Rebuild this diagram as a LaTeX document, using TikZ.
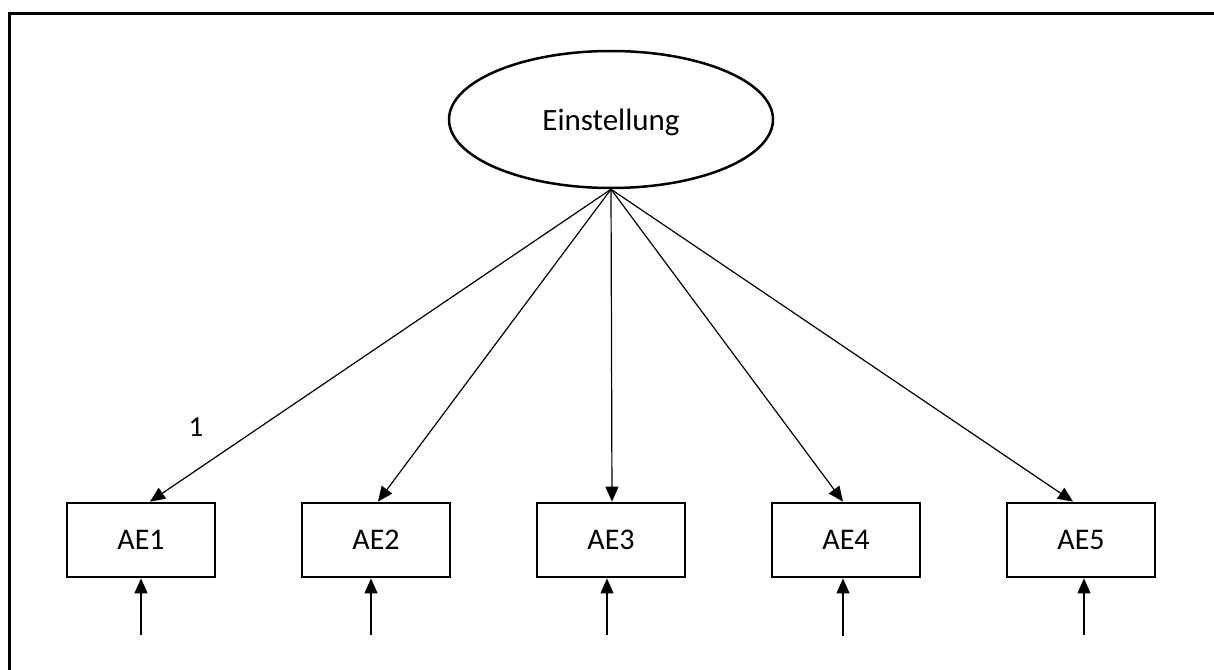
\documentclass[tikz,border=0pt]{standalone}
\usepackage{fontspec}
\setmainfont{Carlito}
\usetikzlibrary{arrows.meta,shapes.geometric}
\begin{document}
\begin{tikzpicture}[x=1pt,y=-1pt,
  indicator/.style={draw,line width=2.8pt,minimum width=148pt,minimum height=74pt,
    inner sep=0pt,font=\fontsize{30}{36}\selectfont},
  latent/.style={draw,ellipse,line width=2.5pt,minimum width=324pt,minimum height=137pt,
    inner sep=0pt},
  path/.style={line width=1.2pt,-{Triangle[length=15pt,width=13pt]}},
  label/.style={font=\fontsize{29}{34}\selectfont,inner sep=0pt,anchor=base}]
  \clip (0,0) rectangle (1214,669);
  % open frame (top and left edges)
  \draw[line width=3pt] (9.5,700) -- (9.5,13.5) -- (1240,13.5);
  % latent variable
  \node[latent] (ell) at (611,119.5) {};
  \node[label,font=\fontsize{31}{36}\selectfont] (elltext) at (611,130.5) {Einstellung};
  % indicators
  \node[indicator] (ae1) at (141,540) {AE1};
  \node[indicator] (ae2) at (376,540) {AE2};
  \node[indicator] (ae3) at (611,540) {AE3};
  \node[indicator] (ae4) at (846,540) {AE4};
  \node[indicator] (ae5) at (1081,540) {AE5};
  % loadings
  \draw[path] (ell.south) -- ([xshift=9pt]ae1.north);
  \draw[path] (ell.south) -- ([xshift=2pt]ae2.north);
  \draw[path] (ell.south) -- ([xshift=1pt]ae3.north);
  \draw[path] (ell.south) -- ([xshift=-3pt]ae4.north);
  \draw[path] (ell.south) -- ([xshift=-8pt]ae5.north);
  \node[label] (one) at (196,436) {1};
  % error terms
  \coordinate (e1) at (141,635);
  \coordinate (e2) at (371,635);
  \coordinate (e3) at (607,635);
  \coordinate (e4) at (843,636);
  \coordinate (e5) at (1084,635);
  \draw[path] (e1) -- (e1 |- ae1.south);
  \draw[path] (e2) -- (e2 |- ae2.south);
  \draw[path] (e3) -- (e3 |- ae3.south);
  \draw[path] (e4) -- (e4 |- ae4.south);
  \draw[path] (e5) -- (e5 |- ae5.south);
\end{tikzpicture}
\end{document}
